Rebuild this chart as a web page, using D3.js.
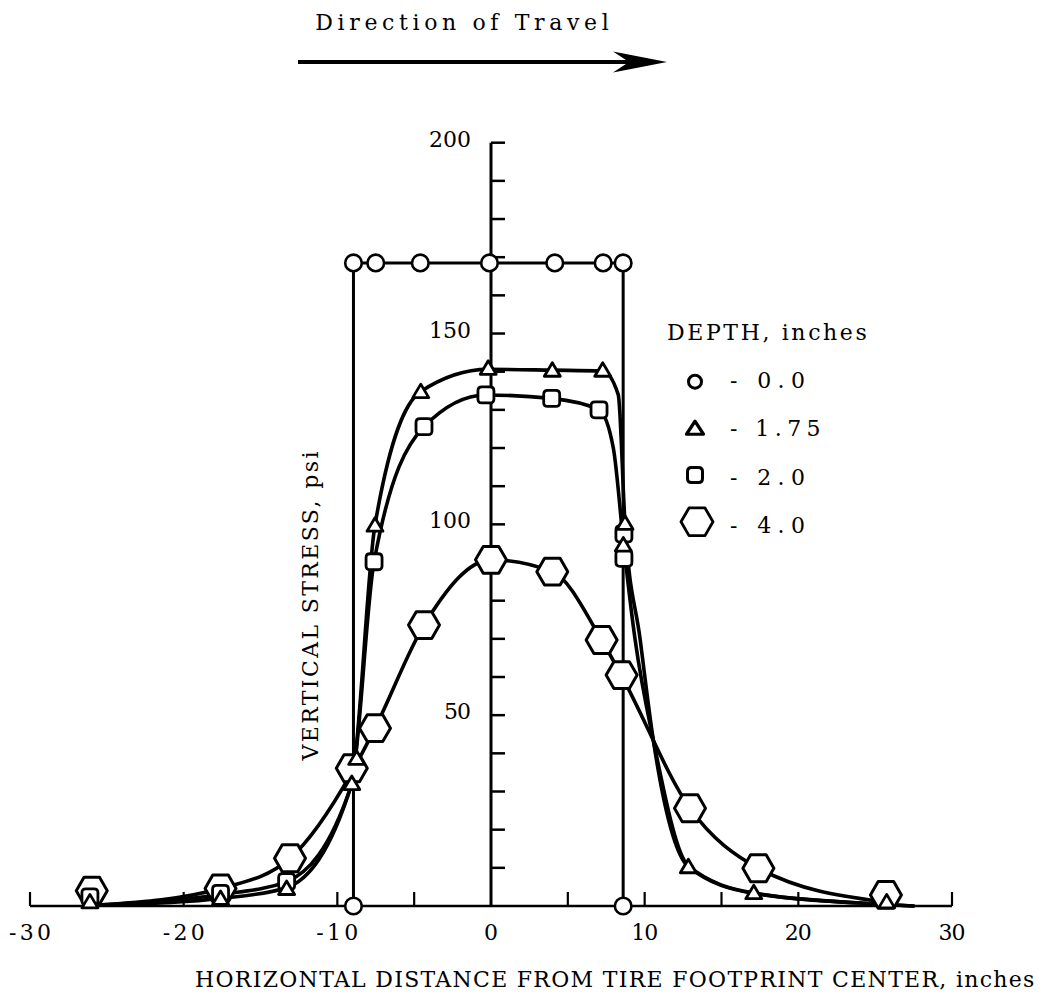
<!DOCTYPE html>
<html><head><meta charset="utf-8">
<script src="https://cdn.jsdelivr.net/npm/d3@7"></script>
<style>body{margin:0;background:#fff} svg{display:block}</style>
</head><body>
<svg id="c" width="1053" height="1002"></svg>
<script>
// ---- data ----
const xTicks = [-30, -20, -10, -5, 5, 10, 15, 20, 30];
const xTickLabels = [-30, -20, -10, 0, 10, 20, 30];
const yTicks = [10,20,30,40,50,60,70,80,90,100,110,120,130,140,150,160,170,180,190,200];
const yTickLabels = [50, 100, 150, 200];
const depthLabels = ["0.0", "1.75", "2.0", "4.0"];

// depth 0.0 in (circles) - drawn as a straight-segment outline
const depth0 = [[-8.95,0],[-8.95,168.5],[-7.5,168.5],[-4.6,168.5],[-0.1,168.5],[4.15,168.5],[7.3,168.5],[8.6,168.5],[8.6,0]];
// depth 1.75 in (triangles)
const depth175 = [[-26.1,1.1],[-17.6,2.0],[-13.3,4.6],[-9.06,32.1],[-8.74,38.7],[-7.55,99.8],[-4.57,134.8],[-0.18,140.9],[3.99,140.4],[7.27,140.4],[8.72,100.3],[8.61,94.6],[12.84,10.3],[17.1,3.5],[25.75,1.1]];
// depth 2.0 in (squares)
const depth2 = [[-26.1,2.4],[-17.6,3.3],[-13.3,6.4],[-7.61,90.2],[-4.36,125.6],[-0.33,133.9],[3.95,133],[7.03,130],[8.65,97.5],[8.65,91.1]];
// depth 4.0 in (hexagons)
const depth4 = [[-25.98,4.0],[-17.6,4.6],[-13.08,12.5],[-9.06,36.1],[-7.55,46.6],[-4.36,73.6],[0,90.7],[3.99,87.6],[7.2,69.7],[8.5,60.5],[12.95,25.6],[17.4,9.9],[25.7,2.9]];

// hand-drawn fitted curves
const curve175 = [[-25.3,0.2],[-17.6,2.0],[-13.3,4.8],[-9.1,31.5],[-7.55,99.8],[-4.57,134.8],[-0.2,140.6],[4.0,140.4],[7.27,140.2],[8.28,134],[8.72,100.3],[9.7,70],[10.56,43.5],[12.84,10.3],[17.1,3.3],[25.7,0.4],[27.5,0]];
const curve2 = [[-25.3,0.3],[-17.6,3.0],[-13.3,6.4],[-9.1,31.5],[-7.61,90.2],[-4.36,125.6],[-0.33,133.9],[3.95,133],[7.03,130],[7.96,120],[8.65,94],[9.37,70],[10.56,43.5],[12.84,10.5],[17.1,3.4],[25.7,0.4],[27.5,0]];
const curve4 = [[-25.3,0.3],[-17.6,4.6],[-13.08,12.5],[-9.06,35],[-7.55,46.6],[-4.36,73.6],[0,90.7],[3.99,87.6],[7.2,69.7],[8.5,60.3],[12.95,25.6],[17.4,9.9],[25.3,1.2]];

// ---- drawing ----
const svg = d3.select("#c");
const FONT = "'DejaVu Serif', 'Liberation Serif', serif";
const INK = "#000";
const CW = 15.6;   // typewriter pitch, px per character
const FS = 22;
const x = d3.scaleLinear().domain([-30, 30]).range([30, 952]);
const y = d3.scaleLinear().domain([0, 200]).range([906, 142.7]);

function typed(sel, str, cw, size) {
  sel.attr("font-family", FONT).attr("font-size", size).attr("fill", INK)
    .attr("textLength", String(str).length * cw - 3).attr("lengthAdjust", "spacing")
    .text(str);
  return sel;
}

// title + arrow
typed(svg.append("text").attr("x", 462).attr("y", 30).attr("text-anchor", "middle"),
  "Direction of Travel", CW, FS);
svg.append("line").attr("x1", 298).attr("x2", 630).attr("y1", 62).attr("y2", 62)
  .attr("stroke", INK).attr("stroke-width", 4);
svg.append("path").attr("d", "M667,62 L613,51.5 L629,62 L613,72.5 Z").attr("fill", INK);

// axes
const ax = svg.append("g").attr("stroke", INK).attr("fill", "none");
ax.append("line").attr("x1", x(-30)).attr("x2", x(30)).attr("y1", y(0)).attr("y2", y(0)).attr("stroke-width", 2.5);
ax.selectAll(".xt").data(xTicks).join("line")
  .attr("x1", d => x(d)).attr("x2", d => x(d)).attr("y1", y(0)).attr("y2", y(0) - 14).attr("stroke-width", 2.2);
ax.append("line").attr("x1", x(0)).attr("x2", x(0)).attr("y1", y(0)).attr("y2", y(200)).attr("stroke-width", 3);
ax.selectAll(".yt").data(yTicks).join("line")
  .attr("x1", x(0)).attr("x2", x(0) + 14).attr("y1", d => y(d)).attr("y2", d => y(d)).attr("stroke-width", 2.5);

svg.selectAll(".xl").data(xTickLabels).join("text")
  .attr("x", d => x(d)).attr("y", 940).attr("text-anchor", "middle")
  .each(function(d) { typed(d3.select(this), String(d), 15, FS); });
svg.selectAll(".yl").data(yTickLabels).join("text")
  .attr("x", 471).attr("y", d => y(d) + 4).attr("text-anchor", "end")
  .each(function(d) { typed(d3.select(this), String(d), 15, FS); });

typed(svg.append("text").attr("transform", "translate(318,606) rotate(-90)").attr("text-anchor", "middle"),
  "VERTICAL STRESS, psi", CW, FS);
typed(svg.append("text").attr("x", 195).attr("y", 987).attr("text-anchor", "start"),
  "HORIZONTAL DISTANCE FROM TIRE FOOTPRINT CENTER, inches", CW, FS);

// curves
const smooth = d3.line().x(d => x(d[0])).y(d => y(d[1])).curve(d3.curveMonotoneX);
const straight = d3.line().x(d => x(d[0])).y(d => y(d[1]));
const cg = svg.append("g").attr("fill", "none").attr("stroke", INK).attr("stroke-width", 3.6)
  .attr("stroke-linejoin", "round").attr("stroke-linecap", "round");
cg.append("path").attr("d", straight(depth0)).attr("stroke-width", 3);
cg.append("path").attr("d", smooth(curve4));
cg.append("path").attr("d", smooth(curve2));
cg.append("path").attr("d", smooth(curve175));

// marker shapes
function circlePath(r) { return `M${r},0A${r},${r} 0 1,1 ${-r},0A${r},${r} 0 1,1 ${r},0Z`; }
function triPath(w, h) { return `M0,${-h*0.55}L${w/2},${h*0.45}L${-w/2},${h*0.45}Z`; }
function sqPath(s, rr) {
  const a = s/2;
  return `M${-a+rr},${-a}H${a-rr}Q${a},${-a} ${a},${-a+rr}V${a-rr}Q${a},${a} ${a-rr},${a}H${-a+rr}Q${-a},${a} ${-a},${a-rr}V${-a+rr}Q${-a},${-a} ${-a+rr},${-a}Z`;
}
function hexPath(r) {
  const h = r * Math.sqrt(3) / 2;
  return `M${r},0L${r/2},${h}L${-r/2},${h}L${-r},0L${-r/2},${-h}L${r/2},${-h}Z`;
}
const mk = svg.append("g").attr("fill", "#fff").attr("stroke", INK).attr("stroke-linejoin", "round");
function markers(data, d, sw) {
  mk.selectAll(null).data(data).join("path")
    .attr("transform", p => `translate(${x(p[0])},${y(p[1])})`)
    .attr("d", d).attr("stroke-width", sw);
}
markers(depth4, hexPath(15.5), 3);
markers(depth2, sqPath(16, 4), 2.8);
markers(depth175, triPath(16, 13.5), 2.8);
markers(depth0, circlePath(8.3), 2.6);

// legend
const lg = svg.append("g");
typed(lg.append("text").attr("x", 667).attr("y", 340), "DEPTH, inches", CW, FS);
const legendShapes = [circlePath(6.5), triPath(17, 13), sqPath(15, 4), hexPath(16)];
const legendSW = [3, 3.2, 3, 2.8];
lg.selectAll(".lm").data(depthLabels).join("path")
  .attr("transform", (d, i) => `translate(${i === 3 ? 697 : 695},${381.7 + i * 46.7})`)
  .attr("d", (d, i) => legendShapes[i]).attr("fill", "#fff").attr("stroke", INK)
  .attr("stroke-width", (d, i) => legendSW[i]).attr("stroke-linejoin", "round");
lg.selectAll(".lt").data(depthLabels).join("text")
  .attr("x", 730).attr("y", (d, i) => 388 + i * 48.3)
  .each(function(d) { typed(d3.select(this), "- " + d, CW, FS); });
</script>
</body></html>
